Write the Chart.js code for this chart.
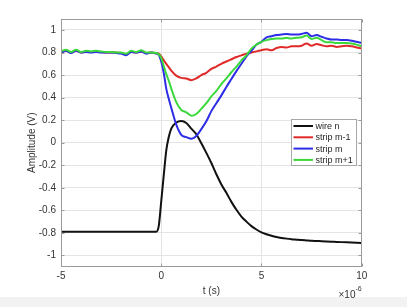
<!DOCTYPE html>
<html>
<head>
<meta charset="utf-8">
<script src="https://cdn.jsdelivr.net/npm/chart.js@4.4.0/dist/chart.umd.min.js"></script>
<style>
  html, body { margin: 0; padding: 0; background: #fff; }
  #caixa { position: relative; width: 407px; height: 307px; }
</style>
</head>
<body>
<div id="caixa"><canvas id="grafico"></canvas></div>
<script>
// tempo em microssegundos (eixo multiplicado por 1e-6)
const tempos = [-5, -4.75, -4.5, -4.25, -4, -3.75, -3.5, -3.25, -3, -2.75, -2.5, -2.25, -2, -1.75, -1.5, -1.25, -1, -0.75, -0.5, -0.25,
  -0.125, 0, 0.125, 0.25, 0.375, 0.5,
  0.75, 1, 1.25, 1.5, 1.75, 2, 2.25, 2.5, 2.75, 3, 3.25, 3.5, 3.75, 4, 4.25, 4.5, 4.75, 5,
  5.25, 5.5, 5.75, 6, 6.25, 6.5, 6.75, 7, 7.25, 7.5, 7.75, 8, 8.25, 8.5, 8.75, 9, 9.25, 9.5, 9.75, 10];

const wireN = [-0.79, -0.79, -0.79, -0.79, -0.79, -0.79, -0.79, -0.79, -0.79, -0.79, -0.79, -0.79, -0.79, -0.79, -0.79, -0.79, -0.79, -0.79, -0.79, -0.79,
  -0.74, -0.52, -0.29, -0.07, 0.05, 0.125,
  0.178, 0.192, 0.175, 0.125, 0.075, -0.005, -0.09, -0.18, -0.28, -0.37, -0.445, -0.525, -0.595, -0.655, -0.70, -0.74, -0.77, -0.795,
  -0.812, -0.826, -0.837, -0.845, -0.851, -0.856, -0.86, -0.864, -0.867, -0.87, -0.872, -0.874, -0.876, -0.878, -0.88, -0.882, -0.884, -0.886, -0.888, -0.89];

const stripM1 = [0.80, 0.815, 0.80, 0.815, 0.80, 0.81, 0.805, 0.81, 0.805, 0.80, 0.80, 0.80, 0.795, 0.785, 0.805, 0.80, 0.81, 0.795, 0.80, 0.795,
  0.79, 0.765, 0.73, 0.70, 0.67, 0.64,
  0.595, 0.575, 0.57, 0.555, 0.57, 0.60, 0.62, 0.655, 0.675, 0.70, 0.72, 0.74, 0.76, 0.775, 0.79, 0.80, 0.81, 0.82,
  0.83, 0.82, 0.84, 0.85, 0.845, 0.855, 0.855, 0.86, 0.88, 0.86, 0.875, 0.865, 0.855, 0.86, 0.85, 0.855, 0.86, 0.855, 0.845, 0.835];

const stripM = [0.80, 0.815, 0.795, 0.815, 0.80, 0.805, 0.80, 0.805, 0.80, 0.80, 0.80, 0.795, 0.79, 0.775, 0.805, 0.80, 0.81, 0.79, 0.80, 0.79,
  0.78, 0.72, 0.62, 0.48, 0.39, 0.31,
  0.16, 0.07, 0.05, 0.035, 0.06, 0.12, 0.19, 0.28, 0.35, 0.42, 0.495, 0.565, 0.635, 0.70, 0.765, 0.815, 0.87, 0.895,
  0.935, 0.945, 0.955, 0.96, 0.965, 0.96, 0.96, 0.965, 0.975, 0.945, 0.955, 0.94, 0.925, 0.915, 0.915, 0.91, 0.91, 0.905, 0.895, 0.885];

const stripP1 = [0.81, 0.825, 0.805, 0.825, 0.805, 0.815, 0.81, 0.815, 0.81, 0.805, 0.805, 0.80, 0.80, 0.79, 0.815, 0.805, 0.82, 0.80, 0.80, 0.795,
  0.785, 0.75, 0.68, 0.61, 0.55, 0.48,
  0.36, 0.29, 0.27, 0.24, 0.255, 0.30, 0.35, 0.41, 0.46, 0.52, 0.57, 0.625, 0.675, 0.73, 0.775, 0.835, 0.87, 0.895,
  0.91, 0.92, 0.925, 0.925, 0.93, 0.925, 0.93, 0.935, 0.95, 0.92, 0.93, 0.91, 0.89, 0.89, 0.885, 0.885, 0.885, 0.88, 0.87, 0.855];

const nomes = ['wire n', 'strip m-1', 'strip m', 'strip m+1'];
const cores = ['#111111', '#e02a2a', '#2d2de6', '#3ad83a'];
const xTicks = [-5, 0, 5, 10];
const yTicks = [-1, -0.8, -0.6, -0.4, -0.2, 0, 0.2, 0.4, 0.6, 0.8, 1];

const FONTE = '"Liberation Sans", Arial, Helvetica, sans-serif';
Chart.defaults.font.family = FONTE;

const fundo = {
  id: 'fundo',
  beforeDraw(chart) {
    const { ctx, width, height } = chart;
    ctx.save();
    ctx.fillStyle = '#ffffff';
    ctx.fillRect(0, 0, width, height);
    ctx.fillStyle = '#f2f2f2';
    ctx.fillRect(0, 297, width, height - 297);
    ctx.restore();
  }
};

const moldura = {
  id: 'moldura',
  afterDatasetsDraw(chart) {
    const { ctx, chartArea: a, scales } = chart;
    const l = Math.round(a.left) + 0.5, r = Math.round(a.right) - 0.5;
    const t = Math.round(a.top) + 0.5, b = Math.round(a.bottom) - 0.5;
    ctx.save();
    ctx.strokeStyle = '#9a9a9a';
    ctx.lineWidth = 1;
    ctx.strokeRect(l, t, r - l, b - t);
    ctx.beginPath();
    xTicks.forEach(v => {
      const px = Math.round(scales.x.getPixelForValue(v)) + 0.5;
      ctx.moveTo(px, b); ctx.lineTo(px, b - 3);
      ctx.moveTo(px, t); ctx.lineTo(px, t + 3);
    });
    yTicks.forEach(v => {
      const py = Math.round(scales.y.getPixelForValue(v)) + 0.5;
      ctx.moveTo(l, py); ctx.lineTo(l + 3, py);
      ctx.moveTo(r, py); ctx.lineTo(r - 3, py);
    });
    ctx.stroke();
    ctx.restore();
  }
};

const legenda = {
  id: 'legenda',
  afterDraw(chart) {
    const { ctx, chartArea: a } = chart;
    const x0 = Math.round(a.right - 70.5) + 0.5;
    const y0 = Math.round(a.top + 100.5) + 0.5;
    ctx.save();
    ctx.fillStyle = '#ffffff';
    ctx.fillRect(x0, y0, 65, 46);
    ctx.strokeStyle = '#a8a8a8';
    ctx.lineWidth = 1;
    ctx.strokeRect(x0, y0, 65, 46);
    ctx.font = '9px ' + FONTE;
    ctx.textBaseline = 'middle';
    chart.data.datasets.forEach((ds, i) => {
      const y = y0 + 6.5 + i * 11.3;
      ctx.strokeStyle = ds.borderColor;
      ctx.lineWidth = 2;
      ctx.beginPath();
      ctx.moveTo(x0 + 2, y);
      ctx.lineTo(x0 + 21.5, y);
      ctx.stroke();
      ctx.fillStyle = '#262626';
      ctx.fillText(ds.label, x0 + 24, y + 0.5);
    });
    ctx.restore();
  }
};

const expoente = {
  id: 'expoente',
  afterDraw(chart) {
    const { ctx, chartArea: a } = chart;
    ctx.save();
    ctx.fillStyle = '#333333';
    ctx.textBaseline = 'alphabetic';
    ctx.font = '7px ' + FONTE;
    const sup = '-6';
    const wSup = ctx.measureText(sup).width;
    const xSup = a.right - wSup;
    ctx.fillText(sup, xSup, 291);
    ctx.font = '10px ' + FONTE;
    const base = '\u00d710';
    const wBase = ctx.measureText(base).width;
    ctx.fillText(base, xSup - wBase, 297.5);
    ctx.restore();
  }
};

const series = [wireN, stripM1, stripM, stripP1];
const ordem = [3, 2, 1, 0];

const ctx = document.getElementById('grafico');
new Chart(ctx, {
  type: 'line',
  data: {
    datasets: series.map((valores, i) => ({
      label: nomes[i],
      data: tempos.map((t, k) => ({ x: t, y: valores[k] })),
      borderColor: cores[i],
      backgroundColor: cores[i],
      borderWidth: 2,
      pointRadius: 0,
      fill: false,
      cubicInterpolationMode: 'monotone',
      order: ordem[i]
    }))
  },
  options: {
    animation: false,
    responsive: true,
    maintainAspectRatio: false,
    layout: { padding: { top: 18.7, right: 45.3, bottom: 0, left: 0 } },
    plugins: {
      legend: { display: false },
      tooltip: { enabled: false }
    },
    scales: {
      x: {
        type: 'linear',
        min: -5,
        max: 10,
        afterBuildTicks: s => { s.ticks = xTicks.map(v => ({ value: v })); },
        afterFit: s => { s.height = 40.3; },
        grid: { color: '#e4e4e4', drawTicks: false },
        border: { display: false },
        ticks: { color: '#333', font: { size: 10 }, padding: 4, maxRotation: 0, callback: v => String(v) },
        title: { display: true, text: 't (s)', color: '#333', font: { size: 10 }, padding: { top: 0, bottom: 10 } }
      },
      y: {
        type: 'linear',
        min: -1.1,
        max: 1.1,
        afterBuildTicks: s => { s.ticks = yTicks.map(v => ({ value: v })); },
        afterFit: s => { s.width = 61; },
        grid: { color: '#e4e4e4', drawTicks: false },
        border: { display: false },
        ticks: { color: '#333', font: { size: 10 }, padding: 5, callback: v => String(Number(v.toFixed(1))) },
        title: { display: true, text: 'Amplitude (V)', color: '#333', font: { size: 10 }, padding: { top: 26, bottom: 0 } }
      }
    }
  },
  plugins: [fundo, moldura, legenda, expoente]
});
</script>
</body>
</html>
